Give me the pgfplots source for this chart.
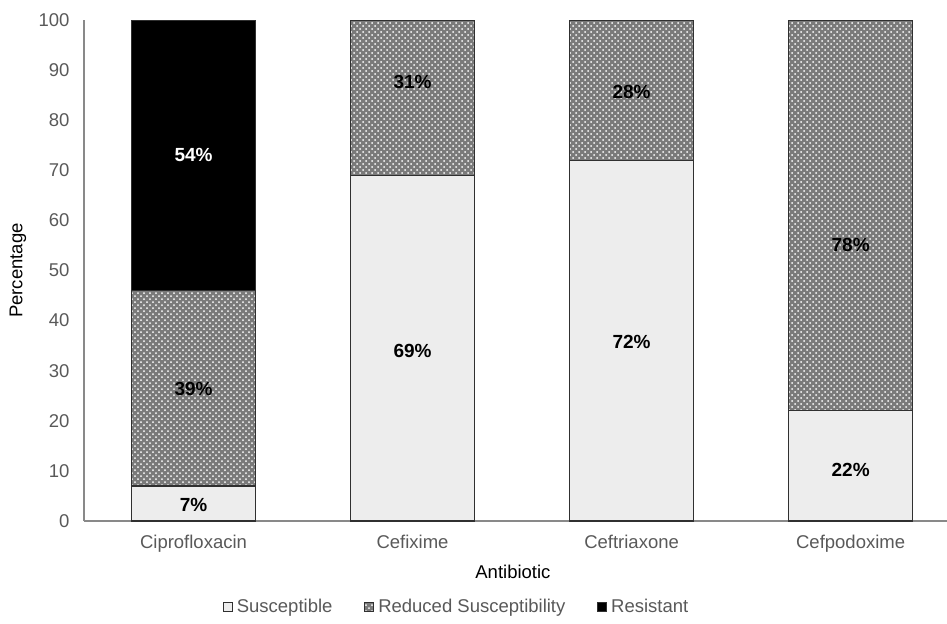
\documentclass[border=0pt]{standalone}
\usepackage{pgfplots}
\pgfplotsset{compat=1.18}
\usepackage{pgfplotstable}
\usetikzlibrary{patterns}
\usepackage{fontspec}
\setmainfont{Liberation Sans}
\definecolor{tickgray}{HTML}{595959}
\definecolor{axgray}{HTML}{898989}
\definecolor{suscol}{HTML}{EDEDED}
\definecolor{redcol}{HTML}{7A7A7A}
\definecolor{edgecol}{HTML}{303030}
\tikzset{lab/.style={anchor=center, font=\fontsize{9.5}{11}\selectfont\bfseries}}

\pgfplotstableread{
x sus red res
0 7 39 54
1 69 31 0
2 72 28 0
3 22 78 0
}\datatab

\begin{document}
\fontsize{9.25}{11}\selectfont
\begin{tikzpicture}
\begin{axis}[
  scale only axis, width=431.5pt, height=250.5pt,
  ybar stacked, bar width=0.566,
  xmin=-0.5, xmax=3.44, ymin=0, ymax=100,
  xtick={0,1,2,3},
  xticklabels={Ciprofloxacin,Cefixime,Ceftriaxone,Cefpodoxime},
  ytick={0,10,...,100},
  axis x line*=bottom, axis y line*=left,
  axis line style={axgray, line width=0.8pt, -},
  major tick length=0pt,
  tick label style={color=tickgray, font=\fontsize{9.25}{11}\selectfont},
  xticklabel style={yshift=-4pt},
  yticklabel style={xshift=-4pt},
  /pgf/number format/assume math mode=true,
  xlabel={Antibiotic}, ylabel={Percentage},
  label style={color=tickgray, font=\fontsize{9.25}{11}\selectfont},
  every axis x label/.style={at={(axis description cs:0.497,0)}, yshift=-25.5pt, anchor=center},
  every axis y label/.style={at={(axis description cs:0,0.5)}, xshift=-33pt, rotate=90, anchor=center},
  legend style={at={(0.433,-0.1717)}, anchor=center, draw=none, legend columns=3,
    font=\fontsize{9.25}{11}\selectfont, text=tickgray,
    /tikz/every even column/.append style={column sep=14pt}},
  legend image code/.code={\draw[#1,draw=edgecol,line width=0.4pt] (0pt,-2.2pt) rectangle (4.5pt,2.3pt);},
]
\addplot[fill=suscol, draw=edgecol, line width=0.6pt] table[x=x,y=sus]{\datatab};
\addplot[fill=redcol, draw=edgecol, line width=0.6pt, postaction={pattern=crosshatch dots, pattern color=white}] table[x=x,y=red]{\datatab};
\addplot[fill=black, draw=edgecol, line width=0.6pt] table[x=x,y=res]{\datatab};
\legend{Susceptible, Reduced Susceptibility, Resistant}
\coordinate (a1) at (axis cs:0,3.2);
\coordinate (a2) at (axis cs:0,26.3);
\coordinate (a3) at (axis cs:0,73);
\coordinate (b1) at (axis cs:1,34);
\coordinate (b2) at (axis cs:1,87.6);
\coordinate (c1) at (axis cs:2,35.7);
\coordinate (c2) at (axis cs:2,85.6);
\coordinate (d1) at (axis cs:3,10.2);
\coordinate (d2) at (axis cs:3,55);
\coordinate (bl) at (rel axis cs:0,0);
\coordinate (tr) at (rel axis cs:1,1);
\end{axis}
\node[lab, text=black] at (a1) {7\%};
\node[lab, text=black] at (a2) {39\%};
\node[lab, text=white] at (a3) {54\%};
\node[lab, text=black] at (b1) {69\%};
\node[lab, text=black] at (b2) {31\%};
\node[lab, text=black] at (c1) {72\%};
\node[lab, text=black] at (c2) {28\%};
\node[lab, text=black] at (d1) {22\%};
\node[lab, text=black] at (d2) {78\%};
\pgfresetboundingbox
\path[use as bounding box] ([xshift=-42pt,yshift=-51pt]bl) rectangle ([yshift=10pt]tr);
\end{tikzpicture}
\end{document}
